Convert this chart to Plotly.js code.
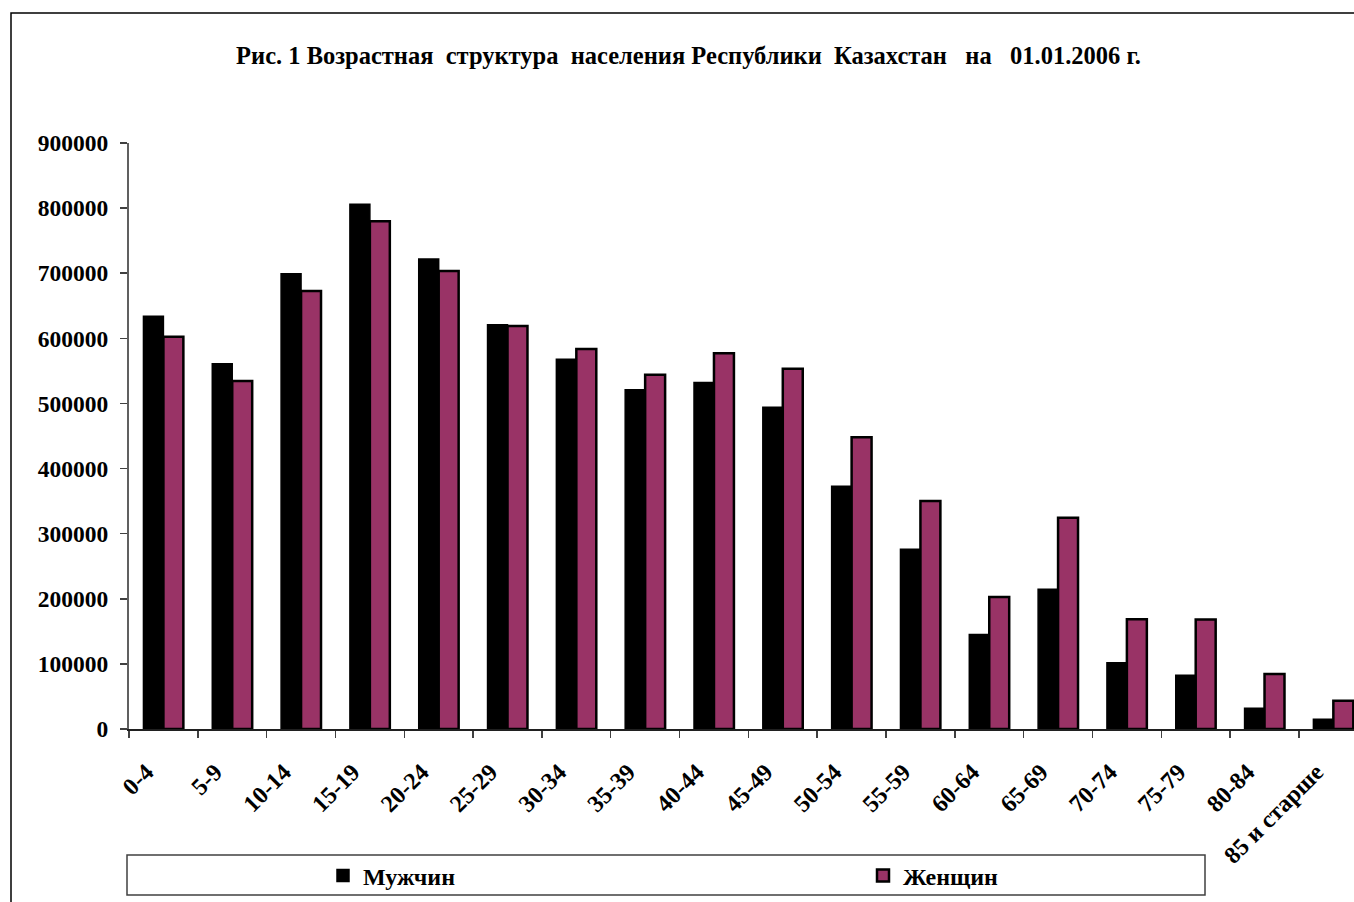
<!DOCTYPE html>
<html>
<head>
<meta charset="utf-8">
<script src="https://cdn.plot.ly/plotly-3.0.1.min.js"></script>
<style>html,body{margin:0;padding:0;background:#fff;}#chart{width:1354px;height:902px;}</style>
</head>
<body>
<div id="chart"></div>
<script>
const categories = ["0-4","5-9","10-14","15-19","20-24","25-29","30-34","35-39","40-44","45-49","50-54","55-59","60-64","65-69","70-74","75-79","80-84","85 и старше"];
const men   = [634000,561000,699000,806000,722000,621000,568000,521000,532000,494000,373000,276000,145000,214500,101800,82400,31800,14900];
const women = [602500,534500,672700,779700,703400,619000,583600,544100,577000,553400,448000,350200,202700,324500,168500,168000,84500,43500];
const seriesNames = ["Мужчин","Женщин"];
const titleText = "Рис. 1 Возрастная\u00A0 структура\u00A0 населения Республики\u00A0 Казахстан\u00A0\u00A0 на\u00A0\u00A0 01.01.2006 г.";

const FONT = "Liberation Serif, Times New Roman, serif";
const W = 1354, H = 902;
const L = 129, T = 143, B = 173, R = 0;
const pw = W - L - R, ph = H - T - B;
const px = x => (x - L) / pw;
const py = y => (H - B - y) / ph;

const traces = [
  {type:"bar", name:seriesNames[0], x:categories, y:men, legend:"legend",
   marker:{color:"#000000", line:{color:"#000000", width:1.5}}},
  {type:"bar", name:seriesNames[1], x:categories, y:women, legend:"legend2",
   marker:{color:"#993366", line:{color:"#000000", width:2.5}}}
];

const legFont = {family:FONT, size:24, color:"#000", weight:"bold"};
const layout = {
  width:W, height:H,
  margin:{l:L, r:R, t:T, b:B, autoexpand:false},
  paper_bgcolor:"#ffffff", plot_bgcolor:"#ffffff",
  font:{family:FONT, size:23, color:"#000"},
  title:{text:"<b>"+titleText+"</b>", font:{family:FONT, size:24.5, color:"#000"},
         xref:"container", yref:"container", x:688.5/W, y:1-55/H, xanchor:"center", yanchor:"middle"},
  barmode:"group", bargap:0.42, bargroupgap:0,
  showlegend:true,
  legend:{x:px(323), xanchor:"left", y:py(876), yanchor:"middle", bgcolor:"rgba(0,0,0,0)", font:legFont},
  legend2:{x:px(863), xanchor:"left", y:py(876), yanchor:"middle", bgcolor:"rgba(0,0,0,0)", font:legFont},
  xaxis:{type:"category", range:[-0.5, 17.3], tickangle:-45, ticks:"outside", tickson:"boundaries",
         ticklen:7, tickcolor:"#404040", tickwidth:1.5, showline:true, linecolor:"#202020", linewidth:1.5,
         showgrid:false, zeroline:false, fixedrange:true, automargin:false,
         ticklabelstandoff:18, ticklabelshift:-17,
         tickfont:{family:FONT, size:24, color:"#000", weight:"bold"}},
  yaxis:{range:[0,900000], dtick:100000, tickformat:"d", ticks:"outside", ticklen:7,
         tickcolor:"#404040", tickwidth:1.5, showline:true, linecolor:"#606060", linewidth:2,
         showgrid:false, zeroline:false, fixedrange:true, automargin:false, ticklabelstandoff:7,
         tickfont:{family:FONT, size:23.5, color:"#000", weight:"bold"}},
  shapes:[
    {type:"rect", xref:"paper", yref:"paper", x0:px(11), x1:px(1380), y0:py(920), y1:py(13),
     line:{color:"#000", width:1.5}, fillcolor:"rgba(0,0,0,0)", layer:"above"},
    {type:"rect", xref:"paper", yref:"paper", x0:px(127), x1:px(1205), y0:py(895), y1:py(855),
     line:{color:"#404040", width:1.5}, fillcolor:"rgba(0,0,0,0)", layer:"above"}
  ]
};

Plotly.newPlot("chart", traces, layout, {displayModeBar:false, staticPlot:true});
</script>
</body>
</html>
